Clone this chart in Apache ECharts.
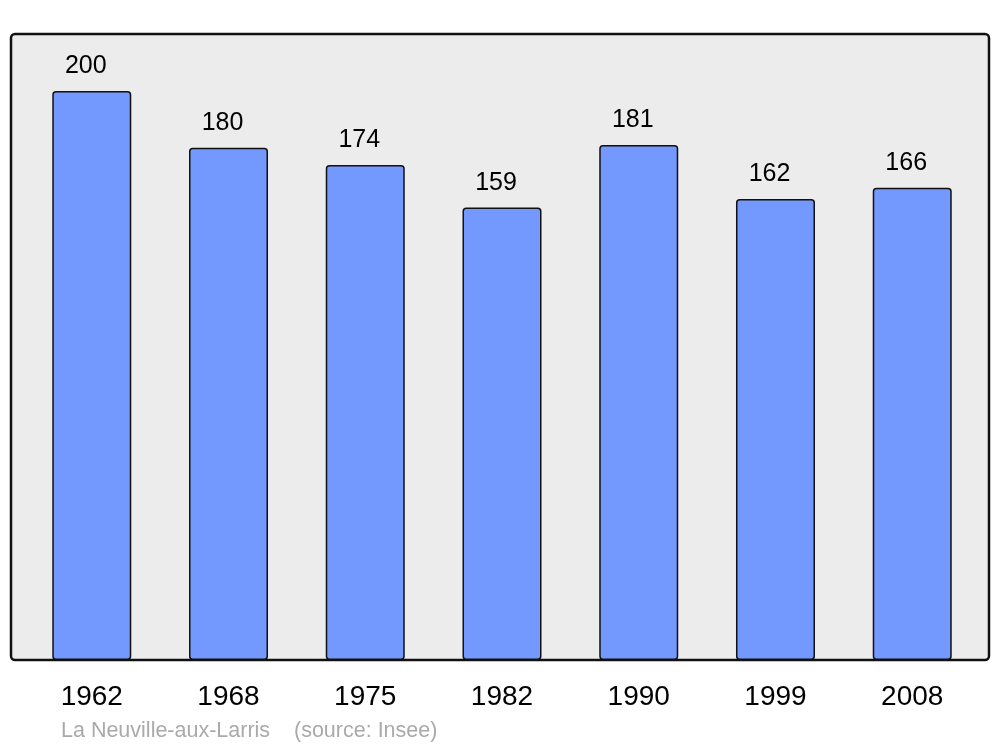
<!DOCTYPE html>
<html>
<head>
<meta charset="utf-8">
<script src="https://cdn.jsdelivr.net/npm/echarts@6/dist/echarts.min.js"></script>
<style>
  html, body { margin: 0; padding: 0; background: #fff; }
  #chart { width: 1000px; height: 747px; }
</style>
</head>
<body>
<div id="chart"></div>
<script>
const years = ["1962", "1968", "1975", "1982", "1990", "1999", "2008"];
const population = [200, 180, 174, 159, 181, 162, 166];
const footer = "La Neuville-aux-Larris    (source: Insee)";

const chart = echarts.init(document.getElementById("chart"));

chart.setOption({
  animation: false,
  textStyle: { fontFamily: "Liberation Sans, Arial, sans-serif" },
  graphic: [
    {
      type: "rect",
      z: -10,
      shape: { x: 11, y: 34, width: 978, height: 626, r: 4 },
      style: { fill: "#ececec", stroke: "#111", lineWidth: 2.5 },
    },
    {
      type: "text",
      left: 61,
      top: 720,
      style: {
        text: footer,
        fill: "#aaaaaa",
        fontSize: 21.5,
        fontFamily: "Liberation Sans, Arial, sans-serif",
      },
    },
  ],
  grid: { left: 23.4, right: 19.4, top: 34, bottom: 87 },
  xAxis: {
    type: "category",
    data: years,
    axisLine: { show: false },
    axisTick: { show: false },
    axisLabel: { fontSize: 28, color: "#000", margin: 23 },
  },
  yAxis: {
    type: "value",
    min: 0,
    max: 220,
    show: false,
    splitLine: { show: false },
  },
  series: [
    {
      type: "bar",
      data: population,
      barWidth: 79,
      itemStyle: {
        color: "#7399ff",
        borderColor: "#111",
        borderWidth: 1.5,
        borderRadius: 3,
      },
      label: {
        show: true,
        position: "top",
        distance: 12,
        offset: [-6, 0],
        fontSize: 25,
        color: "#000",
      },
    },
  ],
});
</script>
</body>
</html>
